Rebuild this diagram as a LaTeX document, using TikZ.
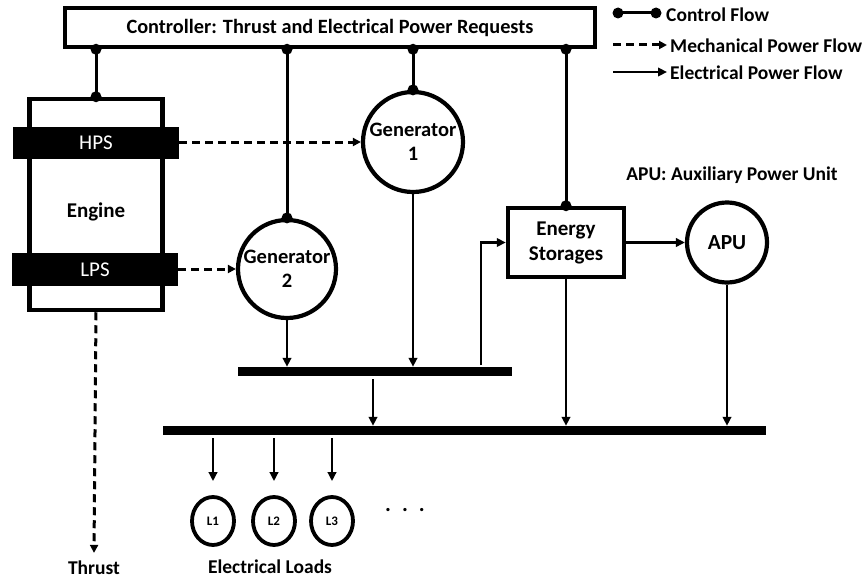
\documentclass[tikz,border=0pt]{standalone}
\usepackage{fontspec}
\setmainfont{Carlito}
\usetikzlibrary{arrows.meta,shapes.geometric}
\tikzset{
  box/.style={draw, line width=4.5pt, fill=white, inner sep=0pt},
  circ/.style={draw, circle, line width=4.2pt, fill=white, inner sep=0pt, align=center, font=\fontsize{20.5}{23}\selectfont\bfseries},
  shaft/.style={fill=black, inner sep=0pt, text=white, font=\fontsize{21}{24}\selectfont},
  bus/.style={fill=black, inner sep=0pt},
  load/.style={draw, ellipse, line width=3.8pt, minimum width=42pt, minimum height=48pt, inner sep=0pt, font=\fontsize{13}{15}\selectfont\bfseries},
  lbl/.style={inner sep=0pt, font=\fontsize{19.5}{22}\selectfont\bfseries},
  ctl/.style={line width=3pt},
  mech/.style={line width=3pt, dash pattern=on 8pt off 5pt, -{Triangle[length=8pt,width=8pt]}},
  elec/.style={line width=2.6pt, -{Triangle[length=9pt,width=8.5pt]}},
}
\newcommand{\dotat}[1]{\fill #1 circle (5.5pt);}
\begin{document}
\begin{tikzpicture}[x=1pt,y=-1pt]
\useasboundingbox (0,0) rectangle (867,578);

% controller
\node[box, minimum width=530pt, minimum height=39pt, font=\fontsize{20.3}{23}\selectfont\bfseries] (ctrl) at (330,27.5) {Controller: Thrust and Electrical Power Requests};

% engine
\node[box, minimum width=133pt, minimum height=211pt] (engine) at (96,204.5) {};
\node[lbl, font=\fontsize{21}{24}\selectfont\bfseries] (englbl) at (96,212) {Engine};
\node[shaft, minimum width=166pt, minimum height=32pt] (hps) at (96,143) {HPS};
\node[shaft, minimum width=166pt, minimum height=33pt] (lps) at (95,269.5) {LPS};

% generators, storage, APU
\node[circ, minimum size=100pt] (gen1) at (413,142) {Generator\\[1pt]1};
\node[circ, minimum size=98pt] (gen2) at (287,269) {Generator\\[1pt]2};
\node[box, minimum width=116pt, minimum height=69pt, align=center, font=\fontsize{21}{25}\selectfont\bfseries] (es) at (566,242.5) {Energy\\Storages};
\node[circ, minimum size=80pt, font=\fontsize{21.5}{24}\selectfont\bfseries] (apu) at (727,242.5) {APU};
\node[lbl] (apulbl) at (732,175) {APU: Auxiliary Power Unit};

% buses
\node[bus, minimum width=274pt, minimum height=9pt] (bus1) at (375,371.5) {};
\node[bus, minimum width=603pt, minimum height=9pt] (bus2) at (464.5,430.5) {};

% loads
\node[load] (l1) at (213,521) {L1};
\node[load] (l2) at (274,521) {L2};
\node[load] (l3) at (332,521) {L3};
\node[lbl, font=\fontsize{22}{24}\selectfont\bfseries] (dots) at (405,510) {.\,\,\,.\,\,\,.};
\node[lbl] (loadlbl) at (270,567) {Electrical Loads};
\node[lbl] (thrust) at (94,568) {Thrust};

% control flow
\draw[ctl] (ctrl.south -| engine.north) -- (engine.north);
\dotat{(ctrl.south -| engine.north)} \dotat{(engine.north)}
\draw[ctl] (ctrl.south -| gen2.north) -- (gen2.north);
\dotat{(ctrl.south -| gen2.north)} \dotat{(gen2.north)}
\draw[ctl] (ctrl.south -| gen1.north) -- (gen1.north);
\dotat{(ctrl.south -| gen1.north)} \dotat{(gen1.north)}
\draw[ctl] (ctrl.south -| es.north) -- (es.north);
\dotat{(ctrl.south -| es.north)} \dotat{(es.north)}

% mechanical flow
\draw[mech] (hps.east |- gen1.west) -- (gen1.west);
\draw[mech] (lps.east |- gen2.west) -- (gen2.west);
\draw[mech] (engine.south) -- ([yshift=8pt]thrust.north);

% electrical flow
\draw[elec] (gen2.south) -- (bus1.north -| gen2.south);
\draw[elec] (gen1.south) -- (bus1.north -| gen1.south);
\coordinate (b1up) at (481,365);
\draw[elec] (b1up) |- (es.west);
\draw[elec] (es.east) -- (apu.west);
\draw[elec] ([yshift=-3pt]bus1.south -| 373,0) -- (bus2.north -| 373,0);
\draw[elec] (es.south) -- (bus2.north -| es.south);
\draw[elec] (apu.south) -- (bus2.north -| apu.south);
\draw[elec] ([yshift=-3pt]bus2.south -| l1.north) -- ([yshift=14pt]l1.north);
\draw[elec] ([yshift=-3pt]bus2.south -| l2.north) -- ([yshift=14pt]l2.north);
\draw[elec] ([yshift=-3pt]bus2.south -| l3.north) -- ([yshift=14pt]l3.north);

% legend
\node[lbl, anchor=west] (lg1) at (666,15) {Control Flow};
\node[lbl, anchor=west] (lg2) at (670,46) {Mechanical Power Flow};
\node[lbl, anchor=west] (lg3) at (670,73) {Electrical Power Flow};
\coordinate (lg1a) at (618,13);
\coordinate (lg1b) at (656,13);
\draw[ctl] (lg1a) -- (lg1b);
\dotat{(lg1a)} \dotat{(lg1b)}
\coordinate (lg2a) at (613,45);
\draw[mech] (lg2a) -- ([xshift=-3pt]lg2.west |- lg2a);
\coordinate (lg3a) at (613,72);
\draw[elec] (lg3a) -- ([xshift=-3pt]lg3.west |- lg3a);
\end{tikzpicture}
\end{document}
